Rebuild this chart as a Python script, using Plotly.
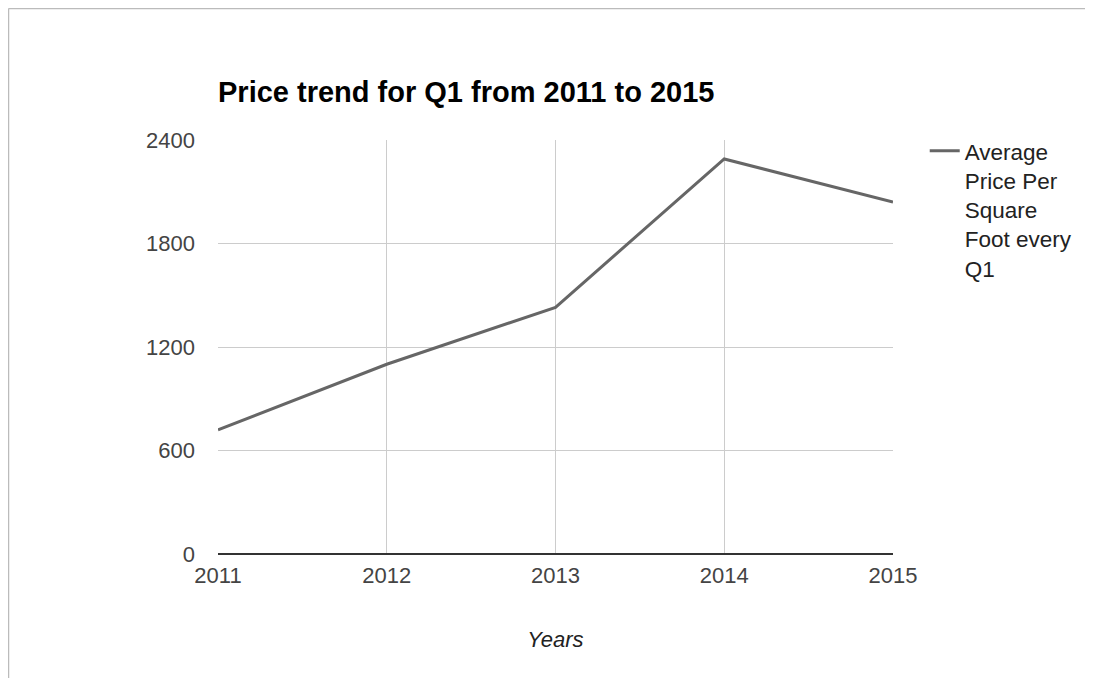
import plotly.graph_objects as go

years = [2011, 2012, 2013, 2014, 2015]
prices = [720, 1100, 1430, 2290, 2040]
series_name = "Average<br>Price Per<br>Square<br>Foot every<br>Q1"
y_ticks = [0, 600, 1200, 1800, 2400]

# page body adds an 8px offset; figure sized to fit the window
W, H = 1085, 670
L, T = 210, 132
pw, ph = 675, 414
R, B = W - L - pw, H - T - ph

fig = go.Figure()
fig.add_trace(go.Scatter(x=years, y=prices, mode="lines", name=series_name,
                         line=dict(color="#666666", width=3)))

font = "Liberation Sans, Arial, sans-serif"
fig.update_layout(
    width=W, height=H,
    margin=dict(l=L, r=R, t=T, b=B),
    paper_bgcolor="white", plot_bgcolor="white",
    font=dict(family=font, size=22, color="#444444"),
    title=dict(text="<b>Price trend for Q1 from 2011 to 2015</b>",
               x=L / W, xanchor="left", y=1 - 84 / H, yanchor="middle",
               font=dict(family=font, size=29, color="#000000")),
    xaxis=dict(range=[2011, 2015], tickvals=years, ticktext=[str(y) for y in years],
               showgrid=True, gridcolor="#cccccc", gridwidth=1, zeroline=False,
               showline=False, ticks="", ticklabelstandoff=6,
               tickfont=dict(size=22, color="#444444"),
               title=dict(text="<i>Years</i>", font=dict(size=22, color="#222222"), standoff=44)),
    yaxis=dict(range=[0, 2400], tickvals=y_ticks, showgrid=True, gridcolor="#cccccc",
               gridwidth=1, zeroline=True, zerolinecolor="#333333", zerolinewidth=2,
               showline=False, ticks="", ticklabelstandoff=22,
               tickfont=dict(size=22, color="#444444")),
    showlegend=True,
    legend=dict(x=1.047, y=1.025, xanchor="left", yanchor="top", valign="top",
                font=dict(size=22.5, color="#222222"), bgcolor="rgba(0,0,0,0)"),
)

# outer frame (top and left edges)
x_left = (-L + 0.5) / pw
x_right = (W - L) / pw
y_top = 1 + (T - 0.5) / ph
y_bot = -B / ph
fig.add_shape(type="line", xref="paper", yref="paper", x0=x_left, x1=x_right, y0=y_top, y1=y_top,
              line=dict(color="#bbbbbb", width=1.5))
fig.add_shape(type="line", xref="paper", yref="paper", x0=x_left, x1=x_left, y0=y_bot, y1=y_top,
              line=dict(color="#bbbbbb", width=1.5))

fig.write_html("out.html")
